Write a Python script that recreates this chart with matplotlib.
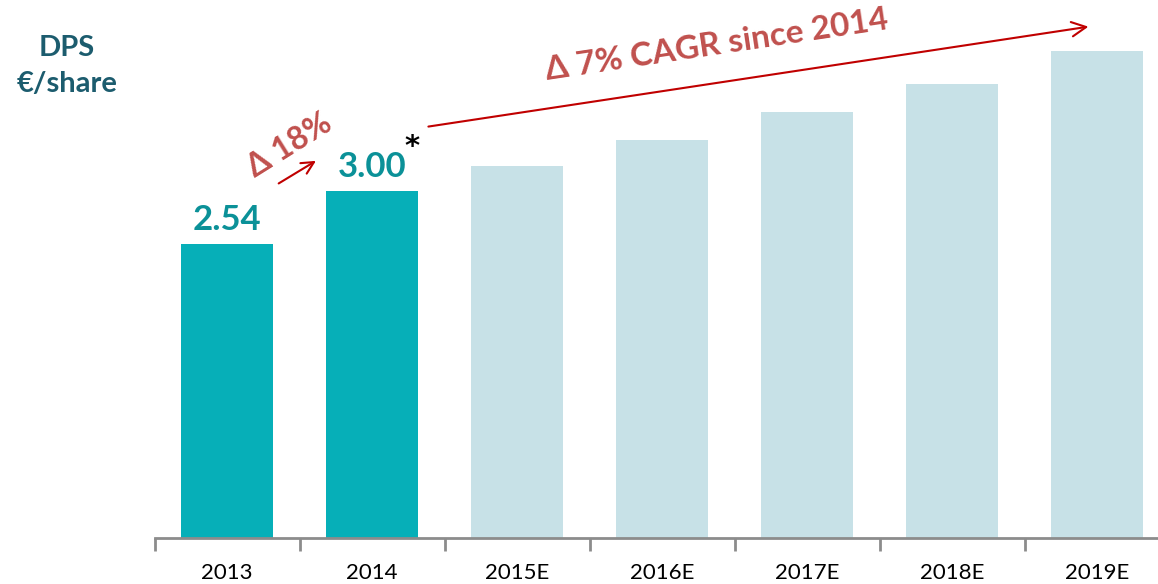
import numpy as np
import matplotlib
matplotlib.use("Agg")
import matplotlib.pyplot as plt

# Datos del gráfico
anios = ["2013", "2014", "2015E", "2016E", "2017E", "2018E", "2019E"]
dps = [2.54, 3.00, 3.21, 3.44, 3.68, 3.92, 4.21]
es_real = [True, True, False, False, False, False, False]
etiquetas_valor = ["2.54", "3.00"]

plt.rcParams["font.family"] = ["Lato", "DejaVu Sans"]

color_real = "#06AFB8"
color_estimado = "#C7E1E7"
color_rojo = "#C0504D"
color_flecha = "#C00000"

fig = plt.figure(figsize=(11.58, 5.84), dpi=100)
ax = fig.add_axes([154.5 / 1158, 46 / 584, 1015 / 1158, 521 / 584])

x = np.arange(len(anios))
colores = [color_real if r else color_estimado for r in es_real]
ax.bar(x, dps, width=0.64, color=colores)

ax.set_xlim(-0.5, len(anios) - 0.5)
ax.set_ylim(0, 4.5)

# Eje x con marcas entre categorías
for lado in ["top", "right", "left"]:
    ax.spines[lado].set_visible(False)
ax.spines["bottom"].set_color("#8C8C8C")
ax.spines["bottom"].set_linewidth(2)
ax.set_yticks([])
ax.set_xticks(x)
ax.set_xticklabels(anios, fontsize=16)
ax.tick_params(axis="x", length=0, pad=18)
ax.set_xticks(np.arange(-0.5, len(anios)), minor=True)
ax.tick_params(axis="x", which="minor", length=9, width=2, color="#8C8C8C")

# Etiquetas de valor de los años reales
for i, txt in enumerate(etiquetas_valor):
    ax.text(x[i], dps[i] + 0.07, txt, ha="center", va="bottom",
            fontsize=25, fontweight="bold", color="#0B9198")
ax.text(x[1] + 0.276, dps[1] + 0.38, "*", ha="center", va="center",
        fontsize=21, fontweight="bold", color="black", family="DejaVu Sans")

# Flecha del 18%
ax.annotate("", xy=(0.63, dps[0] + 0.73), xytext=(0.34, dps[0] + 0.51),
            arrowprops=dict(arrowstyle="->", color=color_flecha, lw=1.5,
                            mutation_scale=22))
ax.text(0.43, dps[0] + 0.85, "Δ 18%", ha="center", va="center", rotation=32,
        fontsize=23, fontweight="bold", color=color_rojo)

# Flecha CAGR
ax.annotate("", xy=(5.96, dps[-1] + 0.21), xytext=(1.37, dps[1] + 0.55),
            arrowprops=dict(arrowstyle="->", color=color_flecha, lw=1.5,
                            mutation_scale=26))
ax.text(3.38, dps[-1] + 0.05, "Δ 7% CAGR since 2014", ha="center", va="center",
        rotation=8.5, fontsize=24, fontweight="bold", color=color_rojo)

# Título del eje
fig.text(67 / 1158, 1 - 48 / 584, "DPS", ha="center", va="center",
         fontsize=21, fontweight="bold", color="#1C5C6E")
fig.text(67 / 1158, 1 - 84 / 584, "€/share", ha="center", va="center",
         fontsize=21, fontweight="bold", color="#1C5C6E")

fig.savefig("out.png", dpi=100)
